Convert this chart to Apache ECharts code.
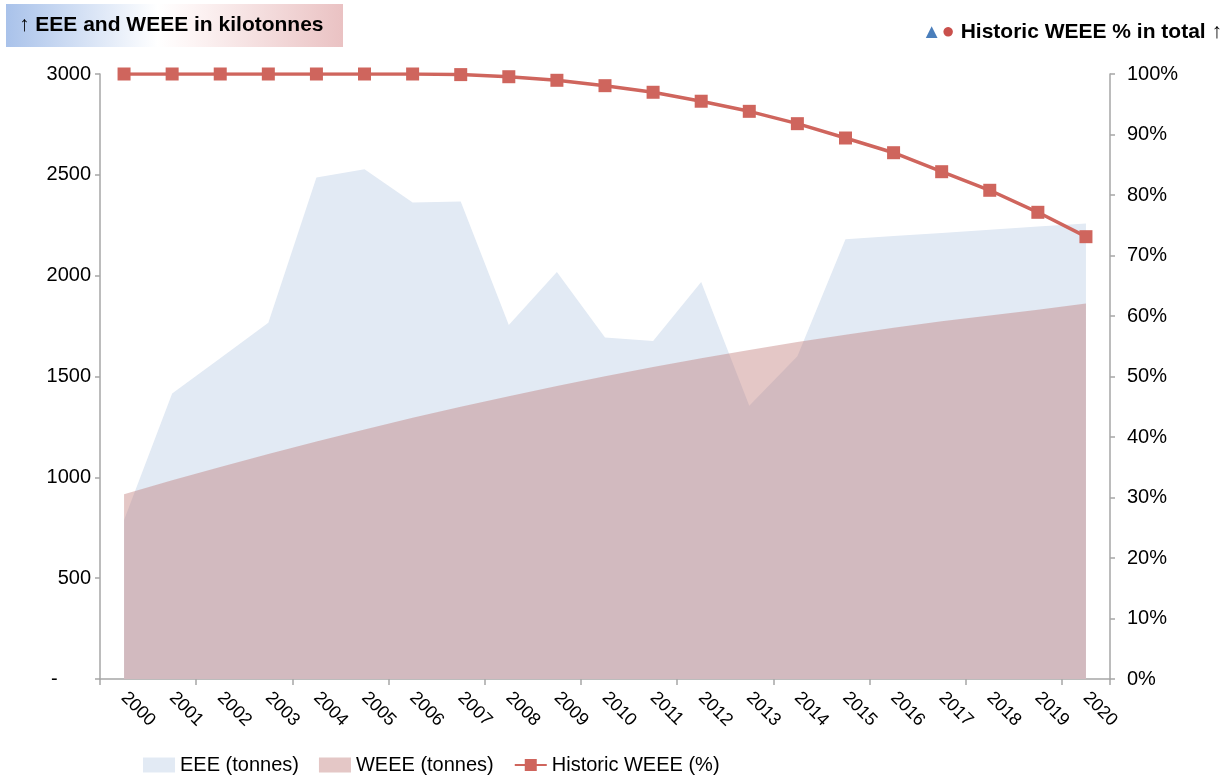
<!DOCTYPE html>
<html>
<head>
<meta charset="utf-8">
<script src="https://cdn.jsdelivr.net/npm/echarts@6/dist/echarts.min.js"></script>
<style>
  html, body { margin: 0; padding: 0; background: #ffffff; }
  #chart { width: 1232px; height: 784px; }
</style>
</head>
<body>
<div id="chart"></div>
<script>
// Years on the category axis
const years = ['2000','2001','2002','2003','2004','2005','2006','2007','2008','2009','2010',
               '2011','2012','2013','2014','2015','2016','2017','2018','2019','2020'];

// EEE put on the market, kilotonnes
const eee = [788, 1416, 1591, 1766, 2487, 2528, 2363, 2368, 1755, 2018, 1694,
             1676, 1968, 1355, 1600, 2181, 2197, 2212, 2228, 2244, 2259];

// WEEE generated, kilotonnes
const weee = [916, 985, 1051, 1116, 1178, 1237, 1295, 1350, 1402, 1453, 1501,
              1547, 1590, 1632, 1671, 1707, 1742, 1774, 1803, 1831, 1862];

// Share of historic WEEE in the total, percent
const historicPct = [100, 100, 100, 100, 100, 100, 100, 99.9, 99.55, 98.96, 98.07,
                     96.98, 95.5, 93.83, 91.79, 89.42, 86.99, 83.85, 80.78, 77.14, 73.11];

const seriesNames = ['EEE (tonnes)', 'WEEE (tonnes)', 'Historic WEEE (%)'];

const FONT = '"Liberation Sans", Arial, sans-serif';
const axisGrey = '#a6a6a6';
const eeeColor = '#e2eaf4';
const weeeFill = 'rgba(188,115,113,0.4)';
const weeeLegend = '#e4c7c6';
const redLine = '#cf655d';

const chart = echarts.init(document.getElementById('chart'), null, { renderer: 'canvas' });

chart.setOption({
  animation: false,
  backgroundColor: '#ffffff',
  textStyle: { fontFamily: FONT },
  grid: { left: 100, right: 122, top: 74, bottom: 105, containLabel: false },
  graphic: [
    {
      type: 'rect',
      left: 6, top: 4,
      shape: { width: 337, height: 43 },
      style: {
        fill: new echarts.graphic.LinearGradient(0, 0, 1, 0, [
          { offset: 0, color: '#a9c2ea' },
          { offset: 0.45, color: '#ffffff' },
          { offset: 0.55, color: '#fdf5f5' },
          { offset: 1, color: '#eac2c3' }
        ])
      },
      z: 1
    },
    {
      type: 'text',
      left: 19, top: 15,
      style: {
        text: '↑ EEE and WEEE in kilotonnes',
        font: 'bold 21px ' + FONT,
        fill: '#000000'
      },
      z: 2
    },
    {
      type: 'text',
      right: 10, top: 21,
      style: {
        text: '{tri|▲}{dot|●} Historic WEEE % in total ↑',
        font: 'bold 21px ' + FONT,
        fill: '#000000',
        rich: {
          tri: { fill: '#4a7ebb', fontSize: 20, fontFamily: FONT },
          dot: { fill: '#c9504c', fontSize: 22, fontFamily: FONT }
        }
      }
    }
  ],
  legend: {
    bottom: 4,
    left: 138,
    itemGap: 20,
    itemWidth: 32,
    itemHeight: 15,
    textStyle: { fontSize: 20, color: '#000000', fontFamily: FONT },
    data: [
      { name: seriesNames[0], icon: 'rect', itemStyle: { color: eeeColor } },
      { name: seriesNames[1], icon: 'rect', itemStyle: { color: weeeLegend } },
      { name: seriesNames[2] }
    ]
  },
  xAxis: {
    type: 'category',
    data: years,
    boundaryGap: true,
    axisLine: { lineStyle: { color: axisGrey, width: 1.5 } },
    axisTick: { show: true, interval: 1, length: 6, lineStyle: { color: axisGrey, width: 1.5 } },
    axisLabel: {
      interval: 0,
      rotate: -45,
      margin: 16,
      fontSize: 18,
      color: '#000000',
      fontFamily: FONT
    },
    splitLine: { show: false }
  },
  yAxis: [
    {
      type: 'value',
      min: 0, max: 3000, interval: 500,
      axisLine: { show: true, lineStyle: { color: axisGrey, width: 1.5 } },
      axisTick: { show: true, length: 5, lineStyle: { color: axisGrey, width: 1.5 } },
      axisLabel: {
        fontSize: 20, color: '#000000', fontFamily: FONT, margin: 9,
        formatter: v => (v === 0 ? '-      ' : String(v))
      },
      splitLine: { show: false }
    },
    {
      type: 'value',
      min: 0, max: 100, interval: 10,
      position: 'right',
      axisLine: { show: true, lineStyle: { color: axisGrey, width: 1.5 } },
      axisTick: { show: true, length: 5, lineStyle: { color: axisGrey, width: 1.5 } },
      axisLabel: {
        fontSize: 20, color: '#000000', fontFamily: FONT, margin: 17,
        formatter: '{value}%'
      },
      splitLine: { show: false }
    }
  ],
  series: [
    {
      name: seriesNames[0],
      type: 'line',
      yAxisIndex: 0,
      data: eee,
      symbol: 'none',
      lineStyle: { width: 0 },
      itemStyle: { color: eeeColor },
      areaStyle: { color: eeeColor, opacity: 1 },
      z: 1
    },
    {
      name: seriesNames[1],
      type: 'line',
      yAxisIndex: 0,
      data: weee,
      symbol: 'none',
      lineStyle: { width: 0 },
      itemStyle: { color: weeeLegend },
      areaStyle: { color: weeeFill, opacity: 1 },
      z: 2
    },
    {
      name: seriesNames[2],
      type: 'line',
      yAxisIndex: 1,
      data: historicPct,
      symbol: 'rect',
      symbolSize: 13,
      lineStyle: { color: redLine, width: 3.5 },
      itemStyle: { color: redLine },
      z: 3
    }
  ]
});
</script>
</body>
</html>
